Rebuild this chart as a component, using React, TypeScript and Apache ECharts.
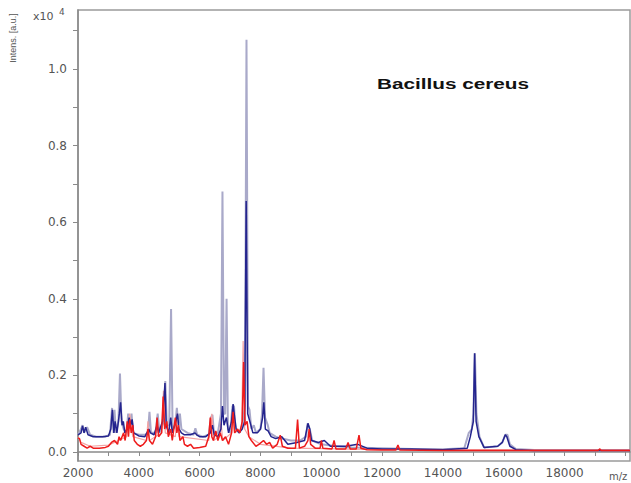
import React, { useEffect, useRef } from "react";
import * as echarts from "echarts";

const xLabelValues = [2000, 4000, 6000, 8000, 10000, 12000, 14000, 16000, 18000];
const xTickValues = [2000, 3000, 4000, 5000, 6000, 7000, 8000, 9000, 10000, 11000, 12000, 13000, 14000, 15000, 16000, 17000, 18000, 19000, 20000];
const yLabelValues = [0, 0.2, 0.4, 0.6, 0.8, 1.0];
const yTickValues = [0, 0.1, 0.2, 0.3, 0.4, 0.5, 0.6, 0.7, 0.8, 0.9, 1.0, 1.1];

const lavenderData = [
  [2000, 0.045], [2100, 0.06], [2150, 0.07], [2200, 0.05], [2300, 0.065], [2400, 0.045], [2600, 0.04], [2900, 0.04],
  [3050, 0.045], [3120, 0.115], [3170, 0.05], [3200, 0.11], [3250, 0.05], [3330, 0.08], [3380, 0.205], [3430, 0.08],
  [3500, 0.06], [3600, 0.05], [3650, 0.10], [3700, 0.06], [3760, 0.10], [3810, 0.05], [4000, 0.045], [4200, 0.045],
  [4300, 0.05], [4350, 0.105], [4400, 0.05], [4550, 0.05], [4620, 0.10], [4680, 0.05], [4820, 0.08], [4870, 0.185],
  [4920, 0.07], [5000, 0.07], [5060, 0.373], [5110, 0.06], [5200, 0.07], [5250, 0.115], [5300, 0.07], [5350, 0.10],
  [5400, 0.06], [5600, 0.05], [5800, 0.045], [5860, 0.062], [5920, 0.045], [6100, 0.04], [6300, 0.045], [6370, 0.09],
  [6420, 0.097], [6470, 0.05], [6600, 0.05], [6700, 0.1], [6750, 0.68], [6800, 0.1], [6840, 0.1], [6885, 0.40],
  [6930, 0.06], [7000, 0.05], [7080, 0.12], [7130, 0.12], [7180, 0.06], [7300, 0.05], [7400, 0.07], [7490, 0.12],
  [7540, 1.076], [7590, 0.12], [7640, 0.11], [7700, 0.06], [7780, 0.07], [7850, 0.05], [8000, 0.06], [8050, 0.10],
  [8100, 0.22], [8150, 0.09], [8240, 0.07], [8300, 0.05], [8500, 0.04], [8700, 0.035], [9000, 0.03], [9300, 0.03],
  [9500, 0.04], [9550, 0.075], [9620, 0.06], [9700, 0.03], [10000, 0.02], [10500, 0.015], [11000, 0.012], [12000, 0.01],
  [13000, 0.008], [14000, 0.007], [14700, 0.01], [14850, 0.05], [14950, 0.06], [15000, 0.1], [15050, 0.258], [15100, 0.1],
  [15200, 0.04], [15350, 0.012], [15800, 0.015], [15950, 0.025], [16050, 0.045], [16120, 0.045], [16200, 0.02],
  [16400, 0.008], [17000, 0.005], [20150, 0.005],
];

const blueData = [
  [2000, 0.045], [2100, 0.05], [2150, 0.068], [2200, 0.05], [2250, 0.065], [2330, 0.045], [2500, 0.04], [2800, 0.04],
  [3000, 0.042], [3080, 0.06], [3130, 0.11], [3180, 0.05], [3220, 0.08], [3280, 0.05], [3360, 0.10], [3400, 0.13],
  [3450, 0.07], [3490, 0.08], [3540, 0.05], [3620, 0.06], [3680, 0.09], [3730, 0.07], [3780, 0.085], [3830, 0.05],
  [4000, 0.042], [4200, 0.04], [4330, 0.06], [4380, 0.05], [4500, 0.045], [4600, 0.07], [4650, 0.05], [4780, 0.08],
  [4860, 0.18], [4900, 0.07], [4980, 0.05], [5050, 0.09], [5100, 0.05], [5220, 0.08], [5270, 0.10], [5320, 0.06],
  [5400, 0.05], [5500, 0.045], [5700, 0.045], [5850, 0.05], [5900, 0.045], [6000, 0.04], [6200, 0.04], [6350, 0.05],
  [6420, 0.07], [6480, 0.045], [6600, 0.04], [6700, 0.06], [6750, 0.12], [6800, 0.07], [6880, 0.09], [6950, 0.05],
  [7050, 0.08], [7100, 0.125], [7150, 0.09], [7200, 0.06], [7300, 0.05], [7400, 0.06], [7480, 0.08], [7530, 0.655],
  [7580, 0.10], [7650, 0.08], [7750, 0.05], [7900, 0.05], [8000, 0.06], [8070, 0.09], [8110, 0.13], [8160, 0.06],
  [8250, 0.055], [8350, 0.04], [8500, 0.035], [8700, 0.04], [8900, 0.02], [9200, 0.025], [9450, 0.03], [9560, 0.075],
  [9620, 0.06], [9680, 0.03], [9900, 0.025], [10100, 0.03], [10300, 0.015], [10800, 0.015], [11200, 0.02], [11500, 0.01],
  [12000, 0.008], [13000, 0.008], [14000, 0.006], [14800, 0.01], [14900, 0.04], [15000, 0.08], [15040, 0.258],
  [15090, 0.08], [15180, 0.04], [15350, 0.012], [15800, 0.015], [15950, 0.025], [16050, 0.045], [16100, 0.04],
  [16200, 0.015], [16400, 0.006], [17000, 0.004], [20150, 0.004],
];

const pinkData = [
  [2000, 0.04], [2100, 0.025], [2400, 0.015], [3000, 0.018], [3600, 0.04], [3700, 0.10], [3800, 0.04], [4250, 0.03],
  [4300, 0.08], [4350, 0.03], [4750, 0.05], [4810, 0.16], [4870, 0.05], [5200, 0.04], [5260, 0.10], [5320, 0.04],
  [6300, 0.03], [6400, 0.10], [6460, 0.03], [6650, 0.04], [6700, 0.08], [6760, 0.03], [7050, 0.05], [7100, 0.11],
  [7150, 0.05], [7380, 0.06], [7430, 0.29], [7480, 0.06], [7620, 0.04], [8000, 0.02], [9000, 0.01], [12000, 0.006],
  [20150, 0.006],
];

const redData = [
  [2000, 0.037], [2050, 0.035], [2100, 0.02], [2200, 0.015], [2300, 0.01], [2400, 0.015], [2500, 0.01], [2700, 0.01],
  [2900, 0.012], [3000, 0.015], [3100, 0.025], [3200, 0.03], [3300, 0.02], [3350, 0.04], [3400, 0.03], [3500, 0.05],
  [3550, 0.03], [3620, 0.08], [3660, 0.04], [3700, 0.085], [3750, 0.05], [3800, 0.07], [3850, 0.03], [3950, 0.02],
  [4050, 0.015], [4150, 0.02], [4250, 0.03], [4300, 0.06], [4350, 0.03], [4450, 0.02], [4550, 0.04], [4600, 0.09],
  [4650, 0.04], [4750, 0.05], [4800, 0.145], [4850, 0.06], [4920, 0.08], [4970, 0.04], [5050, 0.06], [5100, 0.03],
  [5200, 0.09], [5250, 0.05], [5300, 0.07], [5350, 0.03], [5450, 0.04], [5500, 0.02], [5600, 0.015], [5700, 0.02],
  [5800, 0.01], [6000, 0.012], [6200, 0.015], [6300, 0.04], [6350, 0.09], [6400, 0.04], [6450, 0.03], [6530, 0.055],
  [6600, 0.03], [6680, 0.05], [6750, 0.03], [6850, 0.04], [6950, 0.02], [7050, 0.05], [7100, 0.105], [7150, 0.05],
  [7250, 0.06], [7320, 0.05], [7400, 0.08], [7445, 0.235], [7490, 0.07], [7560, 0.08], [7620, 0.04], [7700, 0.03],
  [7850, 0.015], [7950, 0.02], [8100, 0.03], [8200, 0.02], [8300, 0.025], [8400, 0.01], [8550, 0.02], [8650, 0.044],
  [8720, 0.015], [8900, 0.01], [9150, 0.01], [9220, 0.085], [9280, 0.01], [9450, 0.015], [9560, 0.03], [9600, 0.06],
  [9650, 0.02], [9800, 0.01], [9960, 0.01], [10000, 0.03], [10050, 0.01], [10350, 0.008], [10420, 0.03], [10480, 0.008],
  [10800, 0.008], [10880, 0.025], [10950, 0.008], [11150, 0.008], [11240, 0.044], [11300, 0.01], [11500, 0.006],
  [12000, 0.005], [12450, 0.005], [12520, 0.018], [12580, 0.005], [14000, 0.004], [19100, 0.004], [19160, 0.008],
  [19200, 0.004], [20150, 0.004],
];

const TITLE = "Bacillus cereus";
const Y_NAME = "Intens. [a.u.]";
const X_NAME = "m/z";

export default function App() {
  const ref = useRef<HTMLDivElement>(null);
  useEffect(() => {
    if (!ref.current) return;
    const chart = echarts.init(ref.current, null, { renderer: "svg" });
    const gray = "#8a8a8a";
    const labelFont = { color: "#555", fontSize: 12, fontFamily: "DejaVu Sans" };
    const line = (name: string, data: number[][], color: string, width: number, z: number) => ({
      name,
      type: "line",
      data,
      showSymbol: false,
      symbol: "none",
      z,
      lineStyle: { color, width },
      itemStyle: { color },
    });
    chart.setOption({
      animation: false,
      backgroundColor: "#ffffff",
      grid: { left: 78, right: 1, top: 10, bottom: 22, show: true, borderColor: "#9a9a9a", borderWidth: 1.5 },
      xAxis: {
        type: "value",
        min: 2000,
        max: 20150,
        axisLine: { show: true, lineStyle: { color: gray, width: 1.5 } },
        axisTick: { show: true, length: 4, lineStyle: { color: gray }, customValues: xTickValues },
        axisLabel: { ...labelFont, margin: 6, customValues: xLabelValues, formatter: (v: number) => String(v) },
        splitLine: { show: false },
      },
      yAxis: {
        type: "value",
        min: -0.0235,
        max: 1.154,
        axisLine: { show: true, lineStyle: { color: gray, width: 1.5 } },
        axisTick: { show: true, length: 5, lineStyle: { color: gray }, customValues: yTickValues },
        axisLabel: { ...labelFont, margin: 11, customValues: yLabelValues, formatter: (v: number) => v.toFixed(1) },
        splitLine: { show: false },
      },
      series: [
        line("light", lavenderData, "#a9a9c9", 2, 1),
        line("pink", pinkData, "#f3a3a3", 1.2, 2),
        line("blue", blueData, "#24248e", 1.5, 3),
        line("red", redData, "#ee1c1c", 1.5, 4),
      ],
      graphic: [
        {
          type: "text",
          x: 377,
          y: 84,
          scaleX: 1.48,
          style: { text: TITLE, font: 'bold 14px "Liberation Sans"', fill: "#111", verticalAlign: "middle" },
        },
        {
          type: "text",
          x: 13,
          y: 38,
          rotation: Math.PI / 2,
          style: { text: Y_NAME, font: '9px "Liberation Sans"', fill: "#555", align: "center", verticalAlign: "middle" },
        },
        {
          type: "text",
          x: 33,
          y: 16,
          style: { text: "x10", font: '11px "DejaVu Sans"', fill: "#555", verticalAlign: "middle" },
        },
        {
          type: "text",
          x: 59,
          y: 12,
          style: { text: "4", font: '9px "DejaVu Sans"', fill: "#555", verticalAlign: "middle" },
        },
        {
          type: "text",
          x: 609,
          y: 471,
          style: { text: X_NAME, font: '10px "DejaVu Sans"', fill: "#555", verticalAlign: "top" },
        },
      ],
    });
    return () => chart.dispose();
  }, []);
  return <div ref={ref} style={{ position: "fixed", left: 0, top: 0, width: 631, height: 483, background: "#fff" }} />;
}
